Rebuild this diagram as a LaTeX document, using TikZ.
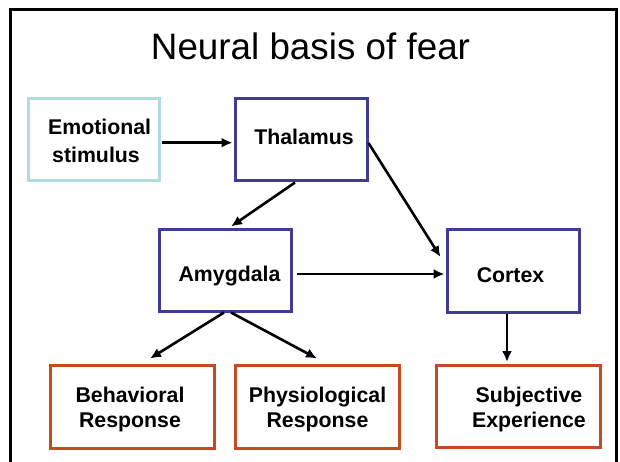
\documentclass[tikz,border=0pt]{standalone}
\usepackage{fontspec}
\setmainfont{Liberation Sans}
\usetikzlibrary{arrows.meta,calc}
\definecolor{cyanbox}{RGB}{176,220,222}
\definecolor{bluebox}{RGB}{62,60,150}
\definecolor{redbox}{RGB}{200,72,32}
\begin{document}
\begin{tikzpicture}[x=1pt,y=-1pt,
  box/.style={draw,line width=3pt,inner sep=0pt,minimum width=132pt,minimum height=82pt},
  widebox/.style={box,minimum width=164pt},
  lbl/.style={font=\fontsize{21.3}{25}\selectfont\bfseries,inner sep=0pt,anchor=base},
  conn/.style={draw=black,line width=2.6pt,-{Latex[length=11pt,width=10pt]}}]
\useasboundingbox[fill=white] (0,0) rectangle (620,462);
% frame
\draw[line width=2.8pt,black] (10.5,475) -- (10.5,9.5) -- (616.5,9.5) -- (616.5,475);
% title
\node[font=\fontsize{36.8}{40}\selectfont,inner sep=0pt,anchor=base] (title) at (310.5,60) {Neural basis of fear};
% boxes
\node[box,draw=cyanbox,minimum width=131pt] (emo) at (93.5,140) {};
\node[box,draw=bluebox] (thal) at (301,140) {};
\node[box,draw=bluebox] (amy) at (225,270) {};
\node[box,draw=bluebox,minimum height=83pt] (cor) at (513,270.5) {};
\node[widebox,draw=redbox,minimum height=83pt] (beh) at (132,406.5) {};
\node[widebox,draw=redbox,minimum height=83pt] (phy) at (317,406.5) {};
\node[widebox,draw=redbox] (sub) at (518,406) {};
% texts
\node[lbl,anchor=base west] (emo1) at (48,135) {Emotional};
\node[lbl,anchor=base west] (emo2) at (52,163) {stimulus};
\node[lbl] (thalt) at (304,145) {Thalamus};
\node[lbl] (amyt) at (229.5,281) {Amygdala};
\node[lbl] (cort) at (510.5,282) {Cortex};
\node[lbl] (beh1) at (130,402) {Behavioral};
\node[lbl] (beh2) at (130,427) {Response};
\node[lbl] (phy1) at (317.5,402) {Physiological};
\node[lbl] (phy2) at (317.5,427) {Response};
\node[lbl] (sub1) at (529,402) {Subjective};
\node[lbl] (sub2) at (529,427) {Experience};
% connectors
\draw[conn] ($(emo.east)+(1.5,2.7)$) -- ($(thal.west)+(-1,2.7)$);
\draw[conn] ($(thal.south)+(-6,0)$) -- ($(amy.north)+(6,-1)$);
\draw[conn] ($(thal.east)+(0,3)$) -- ($(cor.west)+(-5,-13.5)$);
\draw[conn] ($(amy.east)+(4,4)$) -- ($(cor.west)+(-1,3.5)$);
\draw[conn] ($(amy.south)+(-1,0)$) -- ($(beh.north)+(18,-5)$);
\draw[conn] ($(amy.south)+(6,0)$) -- ($(phy.north)+(0,-5)$);
\draw[conn] ($(cor.south)+(-6,0)$) -- ($(sub.north)+(-11,-1.5)$);
\end{tikzpicture}
\end{document}
